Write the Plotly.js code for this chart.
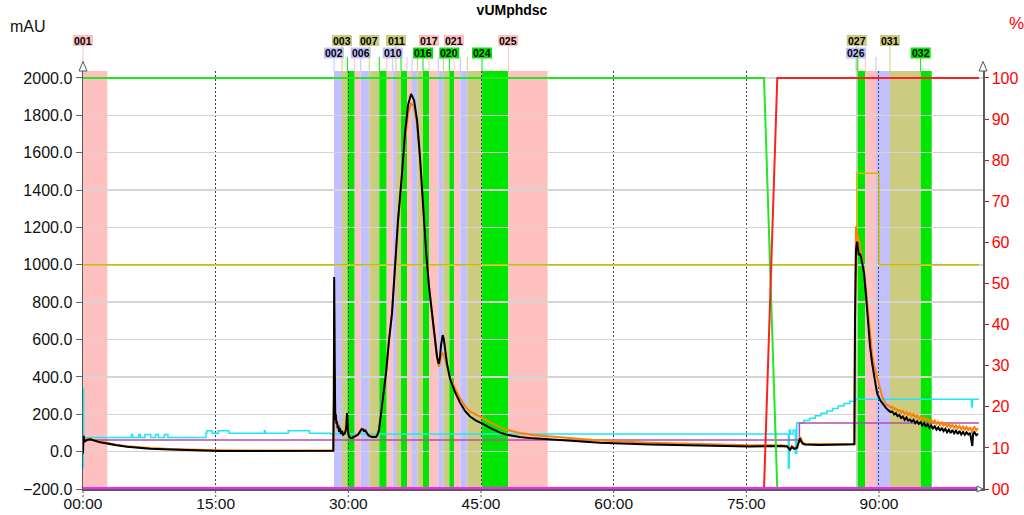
<!DOCTYPE html>
<html>
<head>
<meta charset="utf-8">
<script src="https://cdn.plot.ly/plotly-3.0.1.min.js"></script>
<style>
  html, body { margin: 0; padding: 0; background: #ffffff; }
  #chart { width: 1024px; height: 515px; }
</style>
</head>
<body>
<div id="chart"></div>
<script>
// ---- Fractions (minutes) ----
const fractionNames = ['001','002','003','004','005','006','007','008','009','010',
  '011','012','013','014','015','016','017','018','019','020',
  '021','022','023','024','025','026','027','028','029','030','031','032'];
const fractionStart = [0.00, 28.38, 29.29, 29.89, 30.72, 31.40, 32.37, 33.50, 34.34, 35.02,
  35.39, 35.96, 36.64, 37.20, 37.80, 38.44, 39.12, 40.17, 40.74, 41.42,
  41.95, 42.66, 43.45, 45.12, 48.09, 87.40, 87.49, 87.60, 88.45, 89.66, 91.24, 94.71];
const fractionEnd = [2.75, 29.29, 29.89, 30.72, 31.40, 32.37, 33.50, 34.34, 35.02, 35.39,
  35.96, 36.64, 37.20, 37.80, 38.44, 39.12, 40.17, 40.74, 41.42, 41.95,
  42.66, 43.45, 45.12, 48.09, 52.54, 87.49, 87.60, 88.45, 89.66, 91.24, 94.71, 95.96];

// ---- UV signals (mAU), shared time base in minutes ----
const uvTime = [
  0, 0.05, 0.2, 0.45, 0.79, 1.36, 1.92, 2.71, 3.62, 4.98,
  6.45, 7.58, 9.84, 13.23, 15.49, 18.88, 24.54, 28.0, 28.30, 28.36,
  28.40, 28.46, 28.52, 28.58, 28.65, 28.72, 28.80, 28.88, 28.95, 29.05,
  29.17, 29.28, 29.40, 29.55, 29.70, 29.80, 29.85, 29.92, 30.00, 30.10,
  30.19, 30.42, 30.76, 31.09, 31.30, 31.50, 31.66, 31.80, 31.89, 32.05,
  32.23, 32.45, 32.68, 33.13, 33.30, 33.47, 33.58, 33.75, 33.92, 34.26,
  34.60, 34.94, 35.28, 35.62, 36.07, 36.41, 36.75, 37.09, 37.43, 37.77,
  38.10, 38.44, 38.78, 39.12, 39.46, 39.80, 40.03, 40.22, 40.35, 40.48,
  40.67, 40.80, 40.93, 41.16, 41.50, 42.06, 42.63, 43.19, 43.76, 44.44,
  45.12, 46.02, 47.15, 47.94, 49.41, 50.88, 53.93, 58.46, 64.11, 69.77,
  72.59, 75.42, 78.81, 79.60, 79.94, 80.15, 80.40, 80.73, 81.07, 81.25,
  81.41, 81.64, 83.33, 85.60, 87.07, 87.22, 87.29, 87.40, 87.52, 87.63,
  87.71, 87.84, 87.97, 88.14, 88.31, 88.54, 88.77, 88.99, 89.22, 89.45,
  89.78, 90.12, 90.4, 90.7, 90.9, 91.1, 91.3, 91.5, 91.7, 91.9,
  92.1, 92.3, 92.5, 92.7, 92.9, 93.1, 93.3, 93.5, 93.7, 93.9,
  94.1, 94.3, 94.5, 94.7, 94.9, 95.1, 95.3, 95.5, 95.7, 95.9,
  96.1, 96.3, 96.5, 96.7, 96.9, 97.1, 97.3, 97.5, 97.7, 97.9,
  98.1, 98.3, 98.5, 98.7, 98.9, 99.1, 99.3, 99.5, 99.7, 99.9,
  100.1, 100.3, 100.45, 100.55, 100.65, 100.8, 101.0, 101.2
];
const uvBlack = [
  -10, 85, 55, 62, 66, 58, 50, 44, 35, 26,
  19, 16, 11, 6, 4, 3, 2, 3, 5, 300,
  935, 500, 170, 200, 150, 160, 125, 140, 105, 125,
  95, 110, 90, 95, 110, 150, 207, 140, 95, 80,
  75, 73, 80, 90, 105, 120, 119, 108, 116, 100,
  89, 82, 78, 78, 90, 115, 160, 220, 276, 420,
  597, 742, 990, 1240, 1490, 1705, 1855, 1914, 1882, 1775,
  1579, 1311, 1079, 883, 742, 581, 508, 470, 500, 570,
  624, 600, 555, 470, 390, 320, 262, 218, 188, 166,
  151, 127, 102, 90, 78, 71, 62, 48, 38, 33,
  28, 27, 30, 28, 10, 25, 15, 20, 72, 50,
  42, 38, 36, 36, 37, 40, 700, 1080, 1124, 1080,
  1052, 1060, 1043, 1000, 955, 829, 688, 562, 474, 401,
  313, 276, 255, 240, 228, 222, 212, 215, 200, 206,
  190, 196, 180, 188, 170, 182, 166, 172, 160, 170,
  152, 163, 148, 158, 140, 152, 136, 146, 128, 140,
  124, 136, 118, 130, 112, 128, 110, 122, 104, 118,
  100, 116, 98, 112, 94, 110, 92, 106, 90, 104,
  92, 100, 62, 30, 96, 104, 88, 96
];
const uvOrange = [
  -5, 80, 58, 65, 69, 61, 53, 47, 38, 29,
  22, 19, 14, 9, 7, 6, 5, 6, 8, 280,
  760, 450, 175, 205, 155, 165, 130, 145, 110, 130,
  100, 115, 95, 100, 115, 150, 195, 140, 98, 84,
  79, 77, 84, 94, 109, 123, 122, 111, 119, 104,
  93, 86, 82, 82, 94, 118, 163, 222, 278, 420,
  595, 740, 985, 1225, 1465, 1670, 1810, 1862, 1850, 1750,
  1565, 1300, 1075, 880, 740, 580, 500, 455, 470, 510,
  526, 518, 498, 450, 398, 338, 285, 244, 214, 198,
  183, 158, 130, 116, 100, 89, 76, 60, 48, 40,
  36, 34, 34, 32, 14, 30, 20, 26, 78, 55,
  46, 42, 40, 40, 41, 45, 800, 1207, 1170, 1150,
  1120, 1110, 1060, 1010, 960, 865, 740, 615, 520, 460,
  400, 330, 290, 262, 250, 246, 236, 240, 226, 232,
  218, 224, 210, 218, 202, 212, 196, 206, 190, 200,
  184, 194, 176, 188, 170, 182, 166, 176, 160, 172,
  154, 166, 148, 160, 142, 156, 140, 150, 134, 148,
  130, 144, 126, 140, 124, 138, 120, 134, 118, 132,
  116, 130, 112, 100, 124, 132, 114, 126
];

// ---- Step signals (mAU) ----
const cyanTime = [0, 0.03, 0.07, 5.5, 5.6, 6.3, 6.45, 7.0, 7.65, 8.2,
  8.5, 9.2, 9.6, 13.9, 14.0, 14.6, 15.3, 16.5, 20.5, 20.6,
  23.2, 25.6, 28.0, 79.75, 79.85, 80.0, 80.3, 80.55, 80.7, 81.5,
  82.15, 82.8, 83.45, 84.1, 84.75, 85.4, 86.05, 86.7, 87.3, 100.45,
  100.55, 101.3];
const cyanValue = [-88, 335, 75, 92, 75, 92, 75, 92, 75, 92,
  75, 92, 75, 98, 112, 98, 112, 98, 112, 98,
  112, 98, 95, -88, 115, 94, 115, -8, 153, 166,
  179, 192, 205, 218, 231, 244, 257, 270, 281, 240,
  281, 281];
const purpleTime = [0, 81.0, 101.3];
const purpleValue = [62, 153, 153];
const levelTime = [0, 87.5, 90.0, 101.3];
const levelValue = [1000, 1490, 1000, 1000];

// ---- Gradient (%) ----
const pumpTime = [0, 77.0, 78.5, 101.3];
const pumpA = [100, 100, 0, 0];
const pumpB = [0, 0, 100, 100];
const baseTime = [0, 101.3];
const baseValue = [0, 0];

// ---- Axis labels ----
const xTickVals = [0, 15, 30, 45, 60, 75, 90];
const xTickText = ['00:00', '15:00', '30:00', '45:00', '60:00', '75:00', '90:00'];
const pctTickVals = [0, 10, 20, 30, 40, 50, 60, 70, 80, 90, 100];
const pctTickText = ['00', '10', '20', '30', '40', '50', '60', '70', '80', '90', '100'];

// ---- Geometry of the plotting area ----
const X_MAX = 101.76;
const PLOT = { left: 83, top: 71, width: 900, height: 418 };
const pxPerMin = PLOT.width / X_MAX;
const paperY = px => (PLOT.top + PLOT.height - px) / PLOT.height;
const paperX = t => t / X_MAX;

const bandColor = n => ['#00e600', '#ffc0c0', '#c0c0ff', '#cccc80'][n % 4];

const shapes = [];
const annotations = [];

// fraction bands
fractionNames.forEach((name, i) => {
  shapes.push({
    type: 'rect', layer: 'below', xref: 'x', yref: 'paper',
    x0: fractionStart[i], x1: fractionEnd[i], y0: 0, y1: 1,
    fillcolor: bandColor(parseInt(name, 10)), line: { width: 0 }
  });
});

// dotted time markers continue a little below the time axis
xTickVals.forEach(t => {
  shapes.push({
    type: 'line', xref: 'paper', yref: 'paper',
    x0: paperX(t), x1: paperX(t), y0: paperY(497), y1: 0,
    line: { color: '#555555', width: 1, dash: '2px,2px' }
  });
});

// fraction markers and labels: odd numbers on the upper row, even on the lower,
// a label is skipped when it would crowd the previous one in its row
const LABEL_W = 20, LABEL_GAP = 23;
const rows = {
  top:    { y0: paperY(46),   y1: paperY(35),   last: -Infinity },
  bottom: { y0: paperY(58.5), y1: paperY(47.5), last: -Infinity }
};
fractionNames.forEach((name, i) => {
  const n = parseInt(name, 10);
  const color = bandColor(n);
  const row = rows[n % 2 ? 'top' : 'bottom'];
  const xpx = fractionStart[i] * pxPerMin;
  const px = paperX(fractionStart[i]);
  const show = xpx - row.last >= LABEL_GAP;
  if (show) row.last = xpx;
  shapes.push({
    type: 'line', xref: 'paper', yref: 'paper',
    x0: px, x1: px, y0: show ? row.y0 : paperY(57), y1: 1,
    line: { color: color, width: 1 }
  });
  if (show) {
    const hw = LABEL_W / 2 / PLOT.width;
    shapes.push({
      type: 'rect', xref: 'paper', yref: 'paper',
      x0: px - hw, x1: px + hw, y0: row.y0, y1: row.y1,
      fillcolor: color, line: { width: 0 }
    });
    annotations.push({
      xref: 'paper', yref: 'paper', x: px, y: (row.y0 + row.y1) / 2,
      xanchor: 'center', yanchor: 'middle', showarrow: false,
      text: '<b>' + name + '</b>',
      font: { size: 10.5, color: '#000000', family: 'Liberation Sans, Arial, sans-serif' }
    });
  }
});

// arrow heads on the axes
const aw = 4 / PLOT.width, ah = 9.5 / PLOT.height;
[0, 1].forEach(xp => {
  shapes.push({
    type: 'path', xref: 'paper', yref: 'paper',
    path: `M ${xp - aw},1 L ${xp},${1 + ah} L ${xp + aw},1 Z`,
    fillcolor: '#ffffff', line: { color: '#555555', width: 1 }
  });
});
shapes.push({
  type: 'path', xref: 'paper', yref: 'paper',
  path: `M ${1 - 6 / PLOT.width},${3 / PLOT.height} L 1,0 L ${1 - 6 / PLOT.width},${-3 / PLOT.height} Z`,
  fillcolor: '#ffffff', line: { color: '#555555', width: 1 }
});

annotations.push({
  xref: 'paper', yref: 'paper', x: (27.5 - PLOT.left) / PLOT.width, y: paperY(26),
  xanchor: 'center', yanchor: 'middle', showarrow: false, text: 'mAU',
  font: { size: 16, color: '#111111' }
});
annotations.push({
  xref: 'paper', yref: 'paper', x: (1016 - PLOT.left) / PLOT.width, y: paperY(24),
  xanchor: 'center', yanchor: 'middle', showarrow: false, text: '%',
  font: { size: 17, color: '#ff0000' }
});

const common = { mode: 'lines', hoverinfo: 'skip', showlegend: false };
const traces = [
  Object.assign({ x: levelTime, y: levelValue, line: { color: '#c8be00', width: 1.5, shape: 'hv' } }, common),
  Object.assign({ x: cyanTime, y: cyanValue, line: { color: '#1ee6f5', width: 1.5, shape: 'hv' } }, common),
  Object.assign({ x: purpleTime, y: purpleValue, line: { color: '#b050b0', width: 1.5, shape: 'hv' } }, common),
  Object.assign({ x: uvTime, y: uvOrange, line: { color: '#ff8000', width: 2 } }, common),
  Object.assign({ x: uvTime, y: uvBlack, line: { color: '#000000', width: 2 } }, common),
  Object.assign({ x: pumpTime, y: pumpA, yaxis: 'y2', line: { color: '#22e822', width: 2 } }, common),
  Object.assign({ x: pumpTime, y: pumpB, yaxis: 'y2', line: { color: '#ff2020', width: 2 } }, common),
  Object.assign({ x: baseTime, y: baseValue, yaxis: 'y2', line: { color: '#ff22ff', width: 4 } }, common)
];

const layout = {
  width: 1024, height: 515,
  margin: { l: PLOT.left, r: 1024 - PLOT.left - PLOT.width, t: PLOT.top, b: 515 - PLOT.top - PLOT.height, autoexpand: false },
  paper_bgcolor: '#ffffff', plot_bgcolor: '#ffffff',
  font: { family: 'Liberation Sans, Arial, sans-serif', size: 16, color: '#111111' },
  showlegend: false,
  title: {
    text: '<b>vUMphdsc</b>', x: 0.5, xref: 'container', xanchor: 'center',
    y: 1 - 10 / 515, yref: 'container', yanchor: 'middle',
    font: { size: 14, color: '#000000' }
  },
  xaxis: {
    range: [0, X_MAX], tickvals: xTickVals, ticktext: xTickText,
    showgrid: true, gridcolor: '#444444', griddash: '2px,2px', gridwidth: 1,
    ticks: '', showline: true, linecolor: '#5a5a5a', linewidth: 1.5, zeroline: false,
    tickfont: { size: 15.5 }
  },
  yaxis: {
    range: [-200, 2037.4], tick0: -200, dtick: 200, tickformat: '.1f',
    showgrid: true, gridcolor: '#d4d4d4', gridwidth: 1.5,
    ticks: 'outside', ticklen: 6, tickcolor: '#666666',
    showline: true, linecolor: '#5a5a5a', linewidth: 1.5, zeroline: false,
    tickfont: { size: 16 }
  },
  yaxis2: {
    overlaying: 'y', side: 'right', range: [0, 101.7],
    tickvals: pctTickVals, ticktext: pctTickText,
    tickfont: { size: 16, color: '#ff0000' },
    ticks: 'outside', ticklen: 4, tickcolor: '#ff0000',
    showline: true, linecolor: '#5a5a5a', linewidth: 1.5,
    showgrid: false, zeroline: false
  },
  shapes: shapes,
  annotations: annotations
};

Plotly.newPlot('chart', traces, layout, { staticPlot: true, displayModeBar: false });
</script>
</body>
</html>
